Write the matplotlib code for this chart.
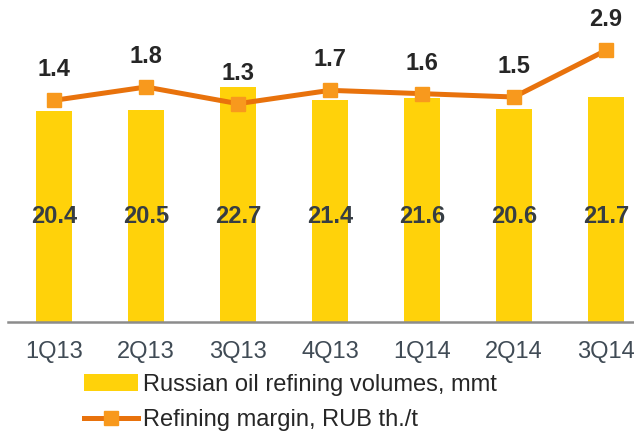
import matplotlib
matplotlib.use("Agg")
import matplotlib.pyplot as plt
from matplotlib.patches import Patch
from matplotlib.lines import Line2D

plt.rcParams['font.family'] = ['Liberation Sans', 'DejaVu Sans']

categories = ["1Q13", "2Q13", "3Q13", "4Q13", "1Q14", "2Q14", "3Q14"]
volumes = [20.4, 20.5, 22.7, 21.4, 21.6, 20.6, 21.7]
margins = [1.4, 1.8, 1.3, 1.7, 1.6, 1.5, 2.9]
vol_labels = ["20.4", "20.5", "22.7", "21.4", "21.6", "20.6", "21.7"]
margin_labels = ["1.4", "1.8", "1.3", "1.7", "1.6", "1.5", "2.9"]

W, H = 634, 434
fig = plt.figure(figsize=(W/100, H/100), dpi=100)
ax = fig.add_axes([8/W, (H-322)/H, 626/W, 322/H])
x = list(range(len(categories)))

bar_color = "#FFD20A"
line_color = "#E8720C"
marker_color = "#F8991D"
text_color = "#262626"
bar_text_color = "#363D44"

ax.bar(x, volumes, width=0.39, color=bar_color, zorder=2)
ax.set_xlim(-0.5, 6.304)
ax.set_ylim(0, 31.1)
for s in ["top", "right", "left"]:
    ax.spines[s].set_visible(False)
ax.spines["bottom"].set_color("#8C8C8C")
ax.spines["bottom"].set_linewidth(1.8)
ax.set_yticks([])
ax.set_xticks(x)
ax.set_xticklabels(categories, fontsize=17, color="#404B55")
ax.tick_params(axis="x", length=0, pad=14)

for xi, lab in zip(x, vol_labels):
    ax.text(xi, 10.15, lab, ha="center", va="center", fontsize=17,
            fontweight="bold", color=bar_text_color, zorder=3)

ax2 = ax.twinx()
ax2.set_ylim(-5.25, 4.41)
ax2.axis("off")
ax2.plot(x, margins, color=line_color, lw=3.6, marker="s", markersize=10.5,
         markerfacecolor=marker_color, markeredgecolor=marker_color, zorder=3)
for xi, v, lab in zip(x, margins, margin_labels):
    ax2.annotate(lab, (xi, v), xytext=(0, 22), textcoords="offset points",
                 ha="center", va="center", fontsize=17, fontweight="bold",
                 color=text_color)

handles = [Patch(facecolor=bar_color, edgecolor="none"),
           Line2D([0], [0], color=line_color, lw=3.6, marker="s", markersize=10.5,
                  markerfacecolor=marker_color, markeredgecolor=marker_color)]
fig.legend(handles, ["Russian oil refining volumes, mmt", "Refining margin, RUB th./t"],
           loc="upper left", bbox_to_anchor=(84/W, 1 - 374/H), frameon=False,
           fontsize=17, handlelength=2.3, handletextpad=0.2, labelspacing=0.55,
           borderpad=0, borderaxespad=0, labelcolor="#262626")

fig.savefig("out.png", dpi=100)
